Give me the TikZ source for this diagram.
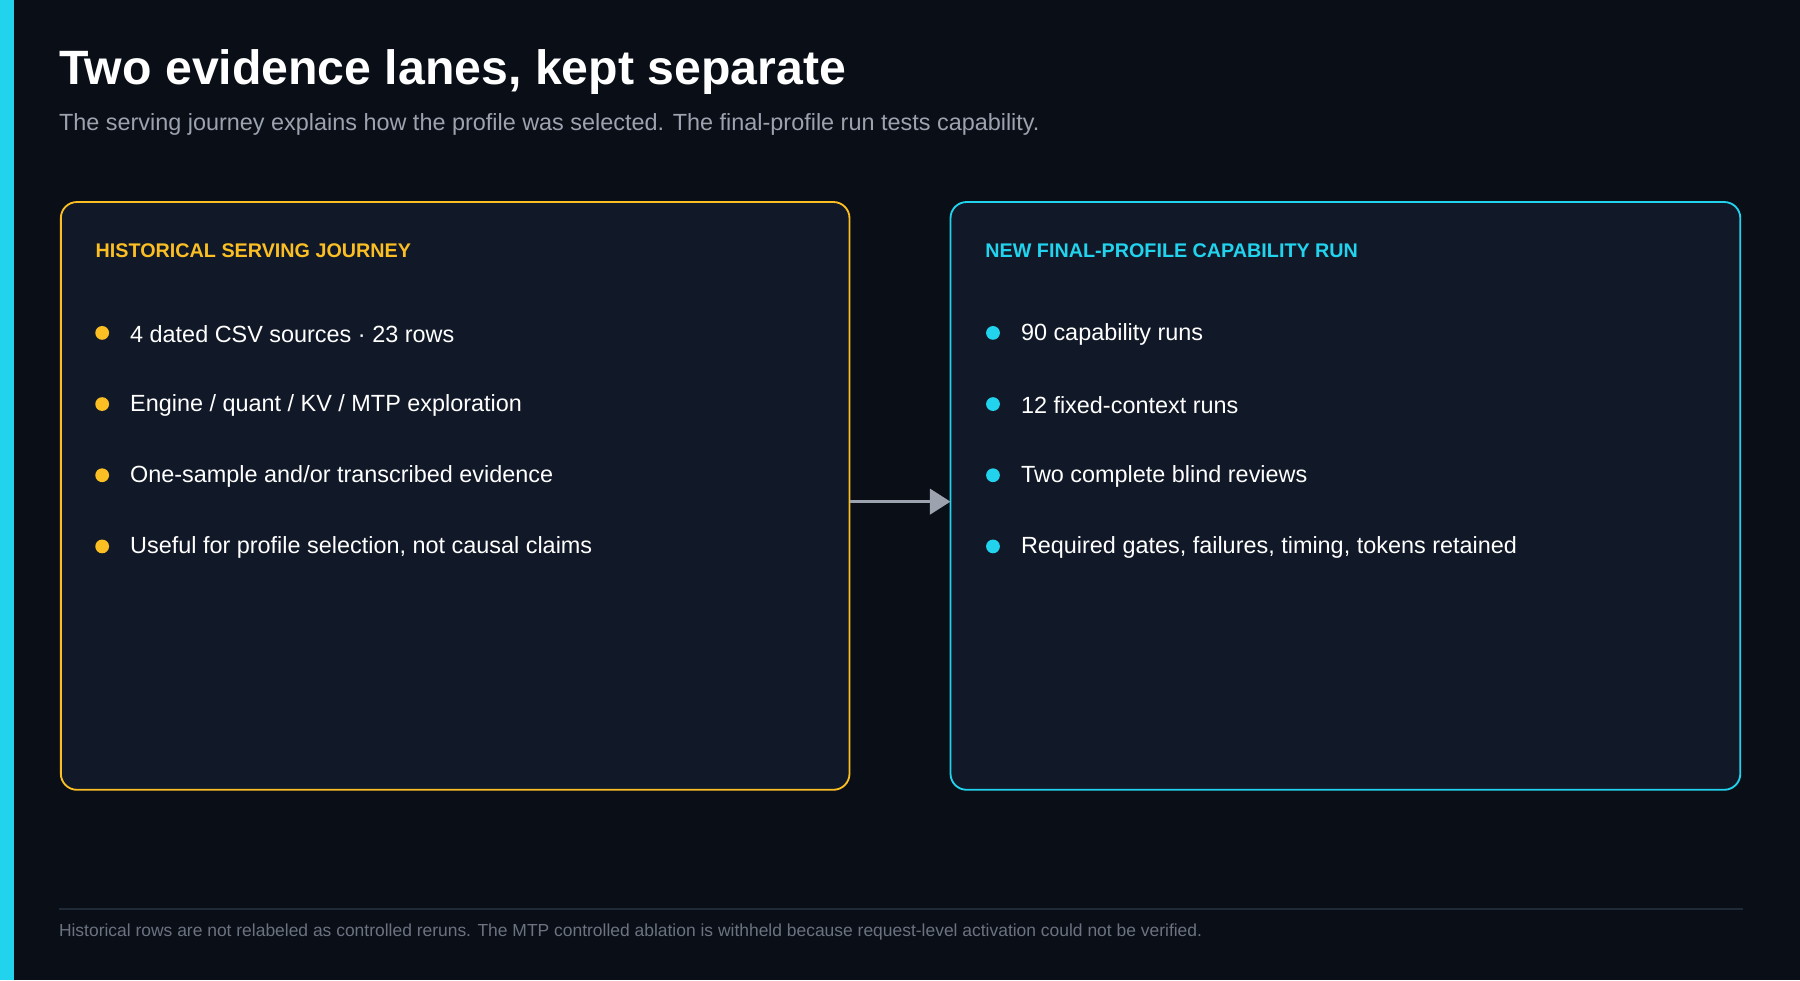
\documentclass[tikz,border=0pt]{standalone}
\usepackage{fontspec}
\setmainfont{Liberation Sans}
\usetikzlibrary{arrows.meta}
\definecolor{bg}{HTML}{0A0E17}
\definecolor{panel}{HTML}{111827}
\definecolor{cy}{HTML}{22D3EE}
\definecolor{yl}{HTML}{FBBF24}
\definecolor{gr}{HTML}{9CA3AF}
\definecolor{ln}{HTML}{1F2937}
\definecolor{ft}{HTML}{6B7280}
\begin{document}
\begin{tikzpicture}[x=0.5pt,y=-0.5pt,
  pan/.style={draw=#1,fill=panel,line width=0.8pt,rounded corners=7pt},
  hd/.style={anchor=west,font=\fontsize{8.6}{10}\selectfont\bfseries,text=#1,inner sep=0},
  bt/.style={anchor=west,font=\fontsize{10.2}{12}\selectfont,text=white,inner sep=0},
  dot/.style={circle,fill=#1,minimum size=6pt,inner sep=0}]
\useasboundingbox (0,0) rectangle (1568,854);
\fill[bg] (0,0) rectangle (1568,854);
\fill[cy] (0,0) rectangle (12,854);
\node[anchor=west,inner sep=0,text=white,font=\fontsize{21}{24}\selectfont\bfseries] (title) at (51,63) {Two evidence lanes, kept separate};
\node[anchor=west,inner sep=0,text=gr,font=\fontsize{10.2}{12}\selectfont] (sub) at (51,108) {The serving journey explains how the profile was selected. The final-profile run tests capability.};
\draw[pan=yl] (53,176) rectangle (740,688) node[pos=0,coordinate] (L) {};
\draw[pan=cy] (828,176) rectangle (1516,688);
\coordinate (la) at (740,437); \coordinate (rb) at (828,437);
\draw[gr,line width=1.6pt,-{Triangle[length=9pt,width=11pt]}] (la) -- (rb);
\node[hd=yl] (h1) at (83,218) {HISTORICAL SERVING JOURNEY};
\node[hd=cy] (h2) at (858,218) {NEW FINAL-PROFILE CAPABILITY RUN};
\foreach \y/\t [count=\i] in {291/{4 dated CSV sources · 23 rows},353/{Engine / quant / KV / MTP exploration},415/{One-sample and/or transcribed evidence},477/{Useful for profile selection, not causal claims}}{
  \node[dot=yl] (ld\i) at (89,\y-1) {};
  \node[bt] (lt\i) at (113,\y) {\t};}
\foreach \y/\t [count=\i] in {291/{90 capability runs},353/{12 fixed-context runs},415/{Two complete blind reviews},477/{Required gates, failures, timing, tokens retained}}{
  \node[dot=cy] (rd\i) at (865,\y-1) {};
  \node[bt] (rt\i) at (889,\y) {\t};}
\draw[ln,line width=0.6pt] (51,792) -- (1518,792);
\node[anchor=west,inner sep=0,text=ft,font=\fontsize{7.6}{9}\selectfont] (foot) at (51,812) {Historical rows are not relabeled as controlled reruns. The MTP controlled ablation is withheld because request-level activation could not be verified.};
\end{tikzpicture}
\end{document}
